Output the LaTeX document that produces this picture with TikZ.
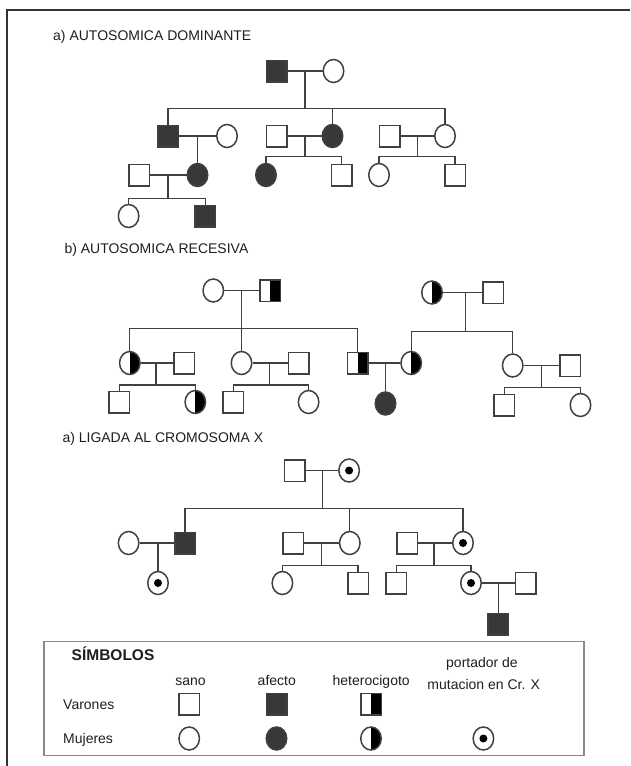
\documentclass[tikz,border=0pt]{standalone}
\usepackage{fontspec}
\setmainfont{Liberation Sans}
\usetikzlibrary{shapes.geometric}
\definecolor{ink}{HTML}{404040}
\definecolor{solid}{HTML}{383838}
\definecolor{rule}{HTML}{8A8A8A}
\definecolor{textc}{HTML}{1E1E1E}
\tikzset{
  person/.style={draw=ink, line width=1.5pt, inner sep=0pt},
  male/.style={person, rectangle, minimum width=20.5pt, minimum height=21.5pt},
  female/.style={person, ellipse, minimum width=20.5pt, minimum height=23pt},
  aff/.style={fill=solid},
  het/.style={path picture={\fill[solid] (path picture bounding box.south) rectangle (path picture bounding box.north east);}},
  carrier/.style={path picture={\fill[solid] (path picture bounding box.center) circle[radius=4pt];}},
  link/.style={draw=ink, line width=1.35pt},
  txt/.style={font=\fontsize{14pt}{16pt}\selectfont, inner sep=0pt, text=textc, anchor=base},
  heading/.style={txt, anchor=base west},
}
\begin{document}
\begin{tikzpicture}[x=1pt, y=-1pt]
\useasboundingbox (0,0) rectangle (630,766);
% outer frame (top and left edges)
\draw[line width=1.4pt, draw=black!80] (7,766) -- (7,10) -- (630,10);

% ---------------- a) autosomal dominant ----------------
\node[heading] (ta) at (53,40) {a) AUTOSOMICA DOMINANTE};
\node[male,aff]   (A1) at (276.5,71) {};
\node[female]     (A2) at (333.5,71) {};
\node[male,aff]   (A3) at (168,136) {};
\node[female]     (A4) at (227,136) {};
\node[male]       (A5) at (276.5,136) {};
\node[female,aff] (A6) at (332.5,136) {};
\node[male]       (A7) at (389.7,136) {};
\node[female]     (A8) at (445,136) {};
\node[male]       (A9) at (139.4,175) {};
\node[female,aff] (A10) at (197.5,175) {};
\node[female,aff] (A11) at (266,175) {};
\node[male]       (A12) at (341.5,175) {};
\node[female]     (A13) at (379,175) {};
\node[male]       (A14) at (455,175) {};
\node[female]     (A15) at (128.6,216) {};
\node[male,aff]   (A16) at (205.3,216) {};

\coordinate (Am1) at (305,71);    \coordinate (Ab1) at (305,108.3);
\coordinate (Am2) at (197.5,136);
\coordinate (Am3) at (305,136);   \coordinate (Ab3) at (305,156.7);
\coordinate (Am4) at (417.8,136); \coordinate (Ab4) at (417.8,156.7);
\coordinate (Am5) at (168,175);   \coordinate (Ab5) at (168,198.3);

\draw[link] (A1.east) -- (A2.west);
\draw[link] (Am1) -- (Ab1);
\draw[link] (A3.north) |- (Ab1) -| (A8.north);
\draw[link] (A6.north) -- (A6.north |- Ab1);
\draw[link] (A3.east) -- (A4.west);
\draw[link] (Am2) -- (A10.north);
\draw[link] (A5.east) -- (A6.west);
\draw[link] (Am3) -- (Ab3);
\draw[link] (A11.north) |- (Ab3) -| (A12.north);
\draw[link] (A7.east) -- (A8.west);
\draw[link] (Am4) -- (Ab4);
\draw[link] (A13.north) |- (Ab4) -| (A14.north);
\draw[link] (A9.east) -- (A10.west);
\draw[link] (Am5) -- (Ab5);
\draw[link] (A15.north) |- (Ab5) -| (A16.north);

% ---------------- b) autosomal recessive ----------------
\node[heading] (tb) at (64.3,253.3) {b) AUTOSOMICA RECESIVA};
\node[female]     (B1) at (213.3,290.5) {};
\node[male,het]   (B2) at (270.4,290.5) {};
\node[female,het] (B3) at (129.8,363) {};
\node[male]       (B4) at (184.4,363) {};
\node[female]     (B5) at (241.5,363) {};
\node[male]       (B6) at (298.5,363) {};
\node[male,het]   (B7) at (357.6,363) {};
\node[female,het] (B8) at (411.2,363) {};
\node[male]       (B9) at (119.3,402) {};
\node[female,het] (B10) at (195.3,402) {};
\node[male]       (B11) at (233.4,402) {};
\node[female]     (B12) at (308.6,402) {};
\node[female,aff] (B13) at (385.5,403.5) {};
\node[female,het] (B14) at (432,292.5) {};
\node[male]       (B15) at (493.4,292.5) {};
\node[female]     (B16) at (512.7,365.5) {};
\node[male]       (B17) at (570.1,365.5) {};
\node[male]       (B18) at (504.2,405) {};
\node[female]     (B19) at (580.5,405) {};

\coordinate (Bm1) at (241.5,290.5); \coordinate (Bb1) at (241.5,328.3);
\coordinate (Bm2) at (156,363);     \coordinate (Bb2) at (156,385);
\coordinate (Bm3) at (269.5,363);   \coordinate (Bb3) at (269.5,385);
\coordinate (Bm4) at (385.5,363);
\coordinate (Bm5) at (465.2,292.5); \coordinate (Bb5) at (465.2,331.7);
\coordinate (Bm6) at (541.2,365.5); \coordinate (Bb6) at (541.2,387.7);

\draw[link] (B1.east) -- (B2.west);
\draw[link] (Bm1) -- (B5.north);
\draw[link] (B3.north) |- (Bb1) -| (B7.north);
\draw[link] (B3.east) -- (B4.west);
\draw[link] (Bm2) -- (Bb2);
\draw[link] (B9.north) |- (Bb2) -| (B10.north);
\draw[link] (B5.east) -- (B6.west);
\draw[link] (Bm3) -- (Bb3);
\draw[link] (B11.north) |- (Bb3) -| (B12.north);
\draw[link] (B7.east) -- (B8.west);
\draw[link] (Bm4) -- (B13.north);
\draw[link] (B14.east) -- (B15.west);
\draw[link] (Bm5) -- (Bb5);
\draw[link] (B8.north) |- (Bb5) -| (B16.north);
\draw[link] (B16.east) -- (B17.west);
\draw[link] (Bm6) -- (Bb6);
\draw[link] (B18.north) |- (Bb6) -| (B19.north);

% ---------------- c) X-linked ----------------
\node[heading] (tc) at (62.3,442.5) {a) LIGADA AL CROMOSOMA X};
\node[male]           (C1) at (294.5,470.5) {};
\node[female,carrier] (C2) at (349.1,470.5) {};
\node[female]         (C3) at (128.6,543) {};
\node[male,aff]       (C4) at (185,543) {};
\node[male]           (C5) at (293.3,543) {};
\node[female]         (C6) at (349.8,543) {};
\node[male]           (C7) at (407,543) {};
\node[female,carrier] (C8) at (463,543) {};
\node[female,carrier] (C9) at (158,583) {};
\node[female]         (C10) at (282.4,583) {};
\node[male]           (C11) at (358,583) {};
\node[male]           (C12) at (396.2,583) {};
\node[female,carrier] (C13) at (471,583) {};
\node[male]           (C14) at (525.5,583) {};
\node[male,aff]       (C15) at (498.2,624) {};

\coordinate (Cm1) at (322.6,470.5); \coordinate (Cb1) at (322.6,508.3);
\coordinate (Cm2) at (158,543);
\coordinate (Cm3) at (321.4,543);   \coordinate (Cb3) at (321.4,565.7);
\coordinate (Cm4) at (434,543);     \coordinate (Cb4) at (434,565.7);
\coordinate (Cm5) at (498.2,583);

\draw[link] (C1.east) -- (C2.west);
\draw[link] (Cm1) -- (Cb1);
\draw[link] (C4.north) |- (Cb1) -| (C8.north);
\draw[link] (C6.north) -- (C6.north |- Cb1);
\draw[link] (C3.east) -- (C4.west);
\draw[link] (Cm2) -- (C9.north);
\draw[link] (C5.east) -- (C6.west);
\draw[link] (Cm3) -- (Cb3);
\draw[link] (C10.north) |- (Cb3) -| (C11.north);
\draw[link] (C7.east) -- (C8.west);
\draw[link] (Cm4) -- (Cb4);
\draw[link] (C12.north) |- (Cb4) -| (C13.north);
\draw[link] (C13.east) -- (C14.west);
\draw[link] (Cm5) -- (C15.north);

% ---------------- legend ----------------
\draw[draw=rule, line width=1.2pt] (44,641.5) rectangle (584,755.5);
\node[heading, font=\fontsize{15.5pt}{18pt}\selectfont\bfseries] (lt) at (71.5,660.5) {SÍMBOLOS};
\node[txt] (lsano) at (190.6,685) {sano};
\node[txt] (lafec) at (276.8,685) {afecto};
\node[txt] (lhet)  at (371.2,685) {heterocigoto};
\node[txt] (lport1) at (482,667) {portador de};
\node[txt] (lport2) at (483.7,689) {mutacion en Cr. X};
\node[heading] (lvar) at (63,709) {Varones};
\node[heading] (lmuj) at (63,743) {Mujeres};
\node[male]           (L1) at (189.2,704) {};
\node[male,aff]       (L2) at (276.5,704) {};
\node[male,het]       (L3) at (371,704) {};
\node[female]         (L4) at (189.2,738.5) {};
\node[female,aff]     (L5) at (276.5,738.5) {};
\node[female,het]     (L6) at (371,738.5) {};
\node[female,carrier] (L7) at (483.4,738.5) {};
\end{tikzpicture}
\end{document}
